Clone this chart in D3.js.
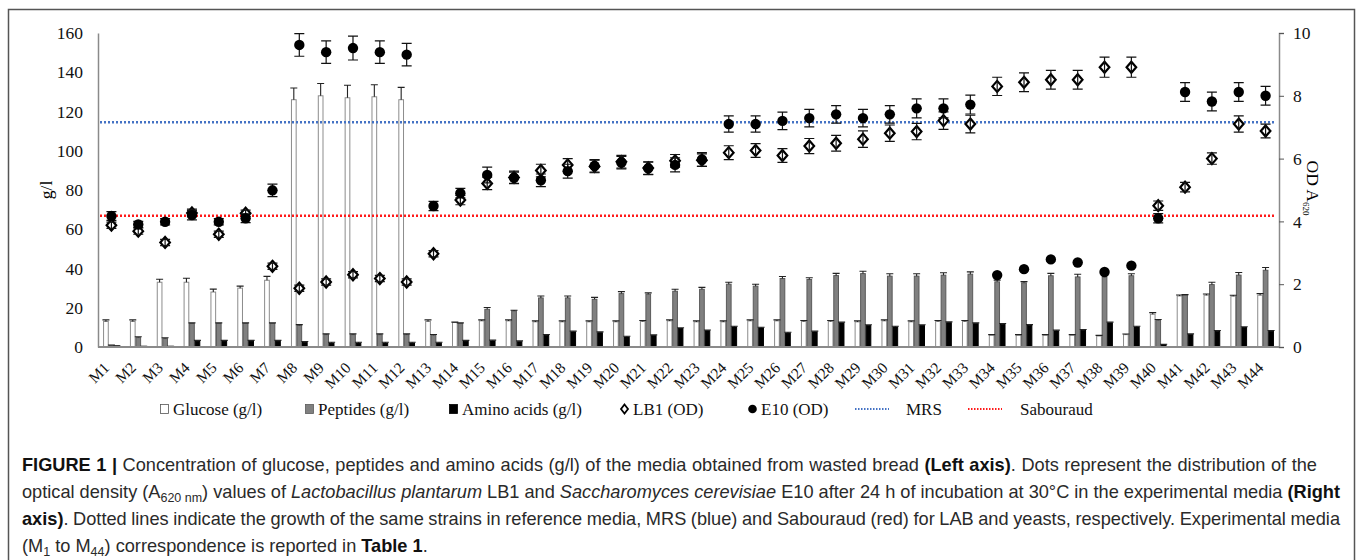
<!DOCTYPE html>
<html>
<head>
<meta charset="utf-8">
<script src="https://cdn.jsdelivr.net/npm/d3@7/dist/d3.min.js"></script>
<style>
  html, body { margin: 0; padding: 0; background: #fff; }
  svg { display: block; }
</style>
</head>
<body>
<svg id="fig" width="1357" height="560"></svg>
<script>
// Media M1..M44
const categories = d3.range(1, 45).map(i => "M" + i);

// Left axis (g/l)
const glucose = [13, 13, 33, 33, 28, 30, 34, 126, 128, 127, 127.5, 126, 13, 12.5,
  13.3, 13.3, 12.8, 12.8, 12.8, 12.8, 13, 13.3, 12.8, 12.8, 13.3, 13.3, 13, 13, 12.8, 13.3,
  12.8, 13, 13, 6, 6, 6, 6, 5.6, 6.3, 16.7, 26, 26.4, 25.9, 26.4];
const glucoseErr = [0.8, 0.8, 1.5, 2, 1.5, 1, 2, 6, 6.3, 6.4, 6.1, 6.3, 0.8, 0.2,
  0.5, 0.5, 0.5, 0.5, 0.5, 0.5, 0.5, 0.5, 0.5, 0.5, 0.5, 0.5, 0.5, 0.5, 0.5, 0.5,
  0.5, 0.5, 0.5, 0.3, 0.3, 0.3, 0.3, 0.3, 0.3, 0.8, 0.5, 0.6, 0.5, 0.8];
const peptides = [0.8, 4.8, 4.3, 12, 12, 12, 12, 11, 6.3, 6.3, 6.3, 6.3, 6, 12,
  19.2, 18.4, 25, 25, 24.3, 27.2, 26.9, 28.4, 29.4, 32, 31, 34.9, 34.4, 36.4, 37.4, 36.1,
  36.1, 36.6, 37.1, 33.2, 32.7, 36.3, 35.7, 35.7, 36.3, 13.6, 26.4, 31.8, 36.6, 39.1];
const peptidesErr = [0.2, 0.4, 0.4, 0.3, 0.3, 0.3, 0.3, 0.4, 0.4, 0.4, 0.4, 0.4, 0.4, 0.3,
  0.9, 0.3, 1, 1, 1, 1, 0.7, 1, 1, 1, 1, 1, 0.9, 1.1, 1.2, 1.2,
  1.2, 1.2, 1.2, 0.9, 0.6, 1.2, 1.4, 1, 1.0, 0.4, 0.3, 1.2, 1.4, 1.4];
const aminoAcids = [0.5, 0.3, 0.3, 3, 3, 3, 3, 2.4, 2, 2, 2, 2, 2, 3,
  3.1, 2.7, 6, 7.7, 7.3, 5.1, 5.8, 9.4, 8.3, 10.2, 9.7, 7.1, 7.7, 12.3, 10.9, 10.2,
  10.9, 12.4, 11.9, 11.6, 11, 8.2, 8.5, 12.3, 10.2, 1.2, 6.3, 8, 9.9, 8];
const aminoErr = [0.1, 0.1, 0.1, 0.4, 0.4, 0.4, 0.4, 0.4, 0.4, 0.4, 0.4, 0.4, 0.4, 0.4,
  0.4, 0.4, 0.4, 0.4, 0.4, 0.4, 0.4, 0.4, 0.4, 0.4, 0.4, 0.4, 0.4, 0.4, 0.4, 0.4,
  0.4, 0.4, 0.4, 0.4, 0.4, 0.4, 0.4, 0.4, 0.4, 0.2, 0.4, 0.4, 0.4, 0.4];

// Right axis (OD A620)
const lb1 = [3.88, 3.69, 3.33, 4.27, 3.59, 4.26, 2.57, 1.87, 2.07, 2.3, 2.18, 2.07, 2.97,
  4.68, 5.21, 5.4, 5.62, 5.8, 5.75, 5.9, 5.7, 5.93, 5.95,
  6.19, 6.26, 6.1, 6.4, 6.49, 6.62, 6.81, 6.86, 7.21, 7.1,
  8.3, 8.43, 8.51, 8.51, 8.91, 8.91, 4.5, 5.09, 6.0, 7.1, 6.88];
const lb1Err = [0.1, 0.1, 0.1, 0.12, 0.1, 0.1, 0.1, 0.1, 0.1, 0.1, 0.1, 0.1, 0.1,
  0.15, 0.2, 0.2, 0.2, 0.2, 0.2, 0.2, 0.2, 0.2, 0.2,
  0.22, 0.22, 0.22, 0.24, 0.25, 0.26, 0.26, 0.26, 0.28, 0.28,
  0.29, 0.3, 0.3, 0.3, 0.32, 0.32, 0.15, 0.15, 0.18, 0.26, 0.22];
const e10 = [4.17, 3.9, 3.99, 4.2, 3.99, 4.1, 4.99, 9.62, 9.39, 9.52, 9.39, 9.31, 4.49,
  4.9, 5.48, 5.39, 5.31, 5.6, 5.77, 5.87, 5.69, 5.8, 5.97,
  7.1, 7.1, 7.2, 7.29, 7.41, 7.29, 7.41, 7.6, 7.6, 7.72,
  2.29, 2.48, 2.79, 2.69, 2.39, 2.59, 4.1, 8.12, 7.82, 8.12, 8.0];
const e10Err = [0.14, 0.1, 0.1, 0.15, 0.1, 0.14, 0.2, 0.36, 0.36, 0.38, 0.36, 0.36, 0.15,
  0.15, 0.25, 0.18, 0.2, 0.22, 0.2, 0.2, 0.2, 0.22, 0.22,
  0.26, 0.26, 0.28, 0.28, 0.28, 0.28, 0.28, 0.3, 0.3, 0.3,
  0, 0, 0, 0, 0, 0, 0.15, 0.3, 0.3, 0.3, 0.3];

// Reference media growth (OD)
const refNames = ["MRS", "Sabouraud"];
const refValues = [7.16, 4.18];
const refColors = ["#4472c4", "#ff1a1a"];

const leftTicks = [0, 20, 40, 60, 80, 100, 120, 140, 160];
const rightTicks = [0, 2, 4, 6, 8, 10];

const svg = d3.select("#fig");
const serif = "'Liberation Serif', 'Times New Roman', serif";
const sans = "'Liberation Sans', Arial, sans-serif";

// outer frame
svg.append("rect").attr("x", 8.5).attr("y", 9.5).attr("width", 1346).attr("height", 570)
  .attr("fill", "none").attr("stroke", "#555").attr("stroke-width", 1.5);

const plotL = 98, plotR = 1279, plotT = 33, plotB = 347;
const x = d3.scaleBand().domain(categories).range([plotL, plotR]);
const yL = d3.scaleLinear().domain([0, 160]).range([plotB, plotT]);
const yR = d3.scaleLinear().domain([0, 10]).range([plotB, plotT]);
const sub = d3.scaleBand().domain(["glucose", "peptides", "amino"]).range([-8.25, 8.25]);
const cx = c => x(c) + x.bandwidth() / 2;

// left axis
const gL = svg.append("g").attr("transform", `translate(${plotL},0)`)
  .call(d3.axisLeft(yL).tickValues(leftTicks).tickSize(0).tickPadding(15));
gL.select(".domain").attr("stroke", "#8a8a8a").attr("stroke-width", 1.5);
gL.selectAll("text").attr("font-family", serif).attr("font-size", 17.5).attr("fill", "#111");

// right axis
const gR = svg.append("g").attr("transform", `translate(${plotR},0)`)
  .call(d3.axisRight(yR).tickValues(rightTicks).tickSize(5).tickSizeOuter(5).tickPadding(9));
gR.select(".domain").attr("stroke", "#8a8a8a").attr("stroke-width", 1.5);
gR.selectAll(".tick line").attr("stroke", "#555");
gR.selectAll("text").attr("font-family", serif).attr("font-size", 17.5).attr("fill", "#111");

// axis titles
svg.append("text").attr("transform", "translate(46,190) rotate(-90)")
  .attr("text-anchor", "middle").attr("dy", "0.35em")
  .attr("font-family", serif).attr("font-size", 17.5).text("g/l");
const odT = svg.append("text").attr("transform", "translate(1313,188) rotate(90)")
  .attr("text-anchor", "middle").attr("dy", "0.35em")
  .attr("font-family", serif).attr("font-size", 17.5);
odT.append("tspan").text("OD A");
odT.append("tspan").attr("font-size", 9).attr("dy", 4).text("620");

// bars
const rows = categories.map((c, i) => ({
  c,
  bars: [
    { key: "glucose", v: glucose[i], e: glucoseErr[i] },
    { key: "peptides", v: peptides[i], e: peptidesErr[i] },
    { key: "amino", v: aminoAcids[i], e: aminoErr[i] }
  ]
}));
const fills = { glucose: "#ffffff", peptides: "#808080", amino: "#000000" };
const strokes = { glucose: "#8c8c8c", peptides: "#5a5a5a", amino: "#000000" };

const grp = svg.append("g").selectAll("g").data(rows).join("g")
  .attr("transform", d => `translate(${cx(d.c)},0)`);
grp.selectAll("rect").data(d => d.bars).join("rect")
  .attr("x", d => sub(d.key) + 0.4)
  .attr("width", sub.bandwidth() - 0.8)
  .attr("y", d => yL(d.v))
  .attr("height", d => plotB - yL(d.v))
  .attr("fill", d => fills[d.key]).attr("stroke", d => strokes[d.key]).attr("stroke-width", 1);
// bar error bars (upper)
grp.selectAll("path.eb").data(d => d.bars.filter(b => b.e > 0)).join("path").attr("class", "eb")
  .attr("d", d => {
    const bx = sub(d.key) + sub.bandwidth() / 2, y0 = yL(d.v), y1 = yL(d.v + d.e);
    return `M${bx},${y0}V${y1}M${bx - 3.5},${y1}H${bx + 3.5}`;
  })
  .attr("stroke", "#222").attr("stroke-width", 1.1).attr("fill", "none");

// x baseline
svg.append("line").attr("x1", plotL).attr("x2", plotR).attr("y1", plotB).attr("y2", plotB)
  .attr("stroke", "#8a8a8a").attr("stroke-width", 2);

// x labels
svg.append("g").selectAll("text").data(categories).join("text")
  .attr("transform", c => `translate(${cx(c) - 5},365) rotate(-45)`)
  .attr("text-anchor", "end").attr("dy", "0.35em")
  .attr("font-family", serif).attr("font-size", 15.5).attr("fill", "#111")
  .text(c => c);

// reference lines
svg.append("g").selectAll("line").data(refValues).join("line")
  .attr("x1", plotL + 2).attr("x2", plotR - 3)
  .attr("y1", d => yR(d)).attr("y2", d => yR(d))
  .attr("stroke", (d, i) => refColors[i]).attr("stroke-width", 2.5)
  .attr("stroke-dasharray", "2,2");

// error bar helper for points
function pointErr(g, vals, errs) {
  g.selectAll("path").data(categories.map((c, i) => ({ c, v: vals[i], e: errs[i] })).filter(d => d.e > 0))
    .join("path")
    .attr("d", d => {
      const px = cx(d.c), a = yR(d.v + d.e), b = yR(d.v - d.e);
      return `M${px},${a}V${b}M${px - 5},${a}H${px + 5}M${px - 5},${b}H${px + 5}`;
    })
    .attr("stroke", "#111").attr("stroke-width", 1.2).attr("fill", "none");
}

// LB1 diamonds
const gLB = svg.append("g");
gLB.selectAll("path").data(categories.map((c, i) => ({ c, v: lb1[i] }))).join("path")
  .attr("d", d => {
    const px = cx(d.c), py = yR(d.v);
    return `M${px},${py - 5.5}L${px + 4.8},${py}L${px},${py + 5.5}L${px - 4.8},${py}Z`;
  })
  .attr("fill", "#fff").attr("stroke", "#000").attr("stroke-width", 2.2);
pointErr(svg.append("g"), lb1, lb1Err);

// E10 dots
pointErr(svg.append("g"), e10, e10Err);
svg.append("g").selectAll("circle").data(categories.map((c, i) => ({ c, v: e10[i] }))).join("circle")
  .attr("cx", d => cx(d.c)).attr("cy", d => yR(d.v)).attr("r", 5.2)
  .attr("fill", "#000");

// legend
const legendY = 409;
const legendItems = [
  { label: "Glucose (g/l)", kind: "bar", key: "glucose" },
  { label: "Peptides (g/l)", kind: "bar", key: "peptides" },
  { label: "Amino acids (g/l)", kind: "bar", key: "amino" },
  { label: "LB1 (OD)", kind: "diamond" },
  { label: "E10 (OD)", kind: "dot" },
  { label: refNames[0], kind: "line", color: refColors[0] },
  { label: refNames[1], kind: "line", color: refColors[1] }
];
const legendX = [160, 305, 449, 620, 748, 855, 968];
const legendTextGap = [13, 13, 13, 13, 13, 51, 52];
const lg = svg.append("g");
legendItems.forEach((it, i) => {
  const g = lg.append("g").attr("transform", `translate(${legendX[i]},${legendY})`);
  if (it.kind === "bar") {
    g.append("rect").attr("x", 0.5).attr("y", -4.5).attr("width", 8).attr("height", 9)
      .attr("fill", fills[it.key]).attr("stroke", it.key === "glucose" ? "#555" : strokes[it.key]).attr("stroke-width", 0.8);
  } else if (it.kind === "diamond") {
    g.append("path").attr("d", "M4.5,-4.5L8,0L4.5,4.5L1,0Z").attr("fill", "#fff").attr("stroke", "#000").attr("stroke-width", 1.8);
  } else if (it.kind === "dot") {
    g.append("circle").attr("cx", 4.5).attr("cy", 0).attr("r", 4.3).attr("fill", "#000");
  } else {
    g.append("line").attr("x1", 0).attr("x2", 34).attr("y1", 0).attr("y2", 0)
      .attr("stroke", it.color).attr("stroke-width", 2).attr("stroke-dasharray", "1.5,1.5");
  }
  g.append("text").attr("x", legendTextGap[i]).attr("dy", "0.35em")
    .attr("font-family", serif).attr("font-size", 17).attr("fill", "#111").text(it.label);
});

// caption
const captionLines = [
  [["FIGURE 1 |", "b"], [" Concentration of glucose, peptides and amino acids (g/l) of the media obtained from wasted bread ", ""], ["(Left axis)", "b"], [". Dots represent the distribution of the", ""]],
  [["optical density (A", ""], ["620 nm", "sub"], [") values of ", ""], ["Lactobacillus plantarum", "i"], [" LB1 and ", ""], ["Saccharomyces cerevisiae", "i"], [" E10 after 24 h of incubation at 30°C in the experimental media ", ""], ["(Right", "b"]],
  [["axis)", "b"], [". Dotted lines indicate the growth of the same strains in reference media, MRS (blue) and Sabouraud (red) for LAB and yeasts, respectively. Experimental media", ""]],
  [["(M", ""], ["1", "sub"], [" to M", ""], ["44", "sub"], [") correspondence is reported in ", ""], ["Table 1", "b"], [".", ""]]
];
const capBase = [471, 498, 525, 552];
const capRight = [1317, 1340, 1340, null];
captionLines.forEach((parts, li) => {
  const t = svg.append("text").attr("x", 22).attr("y", capBase[li])
    .attr("font-family", sans).attr("font-size", 18.2).attr("fill", "#2a2a2a")
    .attr("xml:space", "preserve").style("white-space", "pre");
  let shift = 0;
  parts.forEach(([s, st]) => {
    const ts = t.append("tspan").text(s);
    if (st === "b") ts.attr("font-weight", "bold").attr("fill", "#111");
    if (st === "i") ts.attr("font-style", "italic");
    if (st === "sub") {
      ts.attr("font-size", 12.5).attr("dy", 4);
      shift = -4;
    } else if (shift) {
      ts.attr("dy", shift);
      shift = 0;
    }
  });
  if (capRight[li]) {
    const w = t.node().getComputedTextLength();
    const spaces = parts.map(p => p[0]).join("").split(" ").length - 1;
    t.attr("word-spacing", ((capRight[li] - 22) - w) / spaces);
  }
});
</script>
</body>
</html>
